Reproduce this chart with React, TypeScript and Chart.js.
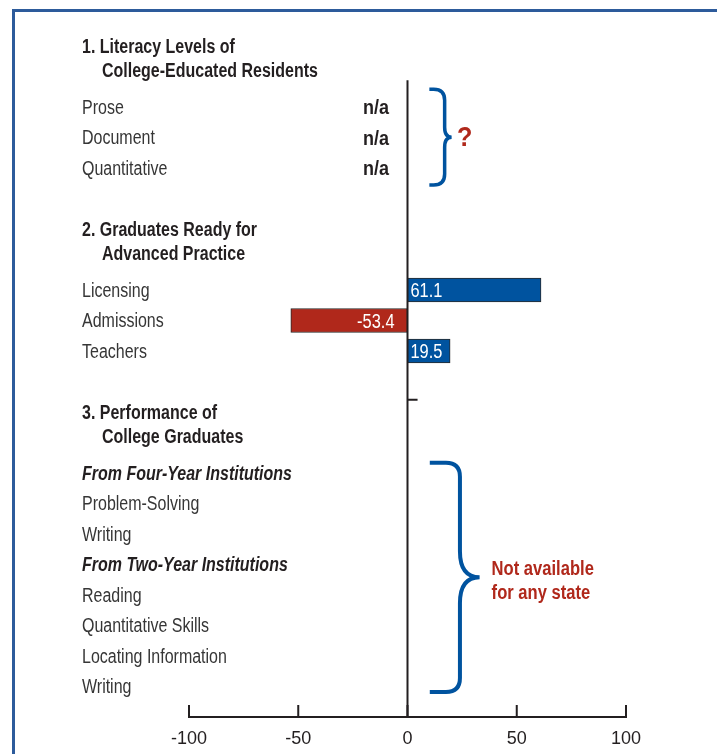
import { useEffect, useRef } from 'react';
import { Chart, registerables } from 'chart.js';

Chart.register(...registerables);

const FONT = "'Liberation Sans', Arial, sans-serif";
const INK = '#231f20';
const TEXT = '#363636';
const BLUE = '#00539f';
const RED = '#b0281b';
const NARROW = 0.82;
const TEXT_DY = 1.5;

// One entry per visual row of the chart (top to bottom). Section titles are two-line arrays.
const rowLabels: (string | string[])[] = [
  ['1. Literacy Levels of', 'College-Educated Residents'],
  '',
  'Prose',
  'Document',
  'Quantitative',
  '',
  ['2. Graduates Ready for', 'Advanced Practice'],
  '',
  'Licensing',
  'Admissions',
  'Teachers',
  '',
  ['3. Performance of', 'College Graduates'],
  '',
  'From Four-Year Institutions',
  'Problem-Solving',
  'Writing',
  'From Two-Year Institutions',
  'Reading',
  'Quantitative Skills',
  'Locating Information',
  'Writing',
  '',
];
const subheadings = ['From Four-Year Institutions', 'From Two-Year Institutions'];

const barCategories = ['Licensing', 'Admissions', 'Teachers'];
const barValues = [61.1, -53.4, 19.5];
const barLabels = ['61.1', '-53.4', '19.5'];

const naCategories = ['Prose', 'Document', 'Quantitative'];
const naText = 'n/a';
const questionText = '?';
const notAvailableLines = ['Not available', 'for any state'];

const xMin = -100;
const xMax = 100;
const xStep = 50;

function narrowText(
  ctx: CanvasRenderingContext2D,
  text: string, x: number, y: number,
  align: CanvasTextAlign, font: string, color: string, sx: number = NARROW,
) {
  ctx.save();
  ctx.translate(x, y + TEXT_DY);
  ctx.scale(sx, 1);
  ctx.font = font;
  ctx.fillStyle = color;
  ctx.textAlign = align;
  ctx.textBaseline = 'middle';
  ctx.fillText(text, 0, 0);
  ctx.restore();
}

function drawBrace(
  ctx: CanvasRenderingContext2D,
  xs: number, xv: number, xt: number,
  yt: number, yb: number, r: number, r2: number, w: number,
) {
  const mid = (yt + yb) / 2;
  ctx.beginPath();
  ctx.moveTo(xs, yt);
  ctx.lineTo(xv - r, yt);
  ctx.quadraticCurveTo(xv, yt, xv, yt + r);
  ctx.lineTo(xv, mid - r2);
  ctx.quadraticCurveTo(xv, mid, xt, mid);
  ctx.quadraticCurveTo(xv, mid, xv, mid + r2);
  ctx.lineTo(xv, yb - r);
  ctx.quadraticCurveTo(xv, yb, xv - r, yb);
  ctx.lineTo(xs, yb);
  ctx.lineWidth = w;
  ctx.strokeStyle = BLUE;
  ctx.stroke();
}

const overlay = {
  id: 'overlay',
  afterDraw(chart: any) {
    const ctx: CanvasRenderingContext2D = chart.ctx;
    const xs = chart.scales.x;
    const ys = chart.scales.y;
    const area = chart.chartArea;
    const X = (v: number) => xs.getPixelForValue(v);
    const Y = (v: number) => ys.getPixelForValue(v);
    ctx.save();

    // zero line and small tick
    const x0 = X(0);
    ctx.strokeStyle = INK;
    ctx.lineWidth = 2;
    ctx.beginPath();
    ctx.moveTo(x0, Y(1.12));
    ctx.lineTo(x0, area.bottom);
    ctx.moveTo(x0, Y(11.6));
    ctx.lineTo(X(4.6), Y(11.6));
    ctx.stroke();

    // upward axis ticks
    ctx.beginPath();
    xs.ticks.forEach((t: any) => {
      const px = X(t.value);
      ctx.moveTo(px, area.bottom);
      ctx.lineTo(px, area.bottom - 12);
    });
    ctx.stroke();

    // row labels
    const left = 82;
    rowLabels.forEach((lab, i) => {
      if (Array.isArray(lab)) {
        const f = `bold 19.5px ${FONT}`;
        narrowText(ctx, lab[0], left, Y(i), 'left', f, INK);
        narrowText(ctx, lab[1], left + 20, Y(i + 0.78), 'left', f, INK);
      } else if (lab) {
        if (subheadings.includes(lab)) {
          narrowText(ctx, lab, left, Y(i), 'left', `italic bold 19.5px ${FONT}`, INK);
        } else {
          narrowText(ctx, lab, left, Y(i), 'left', `19.5px ${FONT}`, TEXT);
        }
      }
    });

    // n/a values
    naCategories.forEach((c) => {
      const i = rowLabels.indexOf(c);
      narrowText(ctx, naText, X(-8.5), Y(i), 'right', `bold 20px ${FONT}`, INK, 0.9);
    });

    // bar value labels
    const meta = chart.getDatasetMeta(0);
    barCategories.forEach((c, k) => {
      const i = rowLabels.indexOf(c);
      const el = meta.data[i];
      if (!el) return;
      if (barValues[k] >= 0) {
        narrowText(ctx, barLabels[k], el.base + 3, el.y, 'left', `20px ${FONT}`, '#ffffff');
      } else {
        narrowText(ctx, barLabels[k], el.base - 13, el.y, 'right', `20px ${FONT}`, '#ffffff');
      }
    });

    // braces
    drawBrace(ctx, X(10), X(17), X(20.2), Y(1.42), Y(4.56), 11, 10, 3.5);
    drawBrace(ctx, X(10.2), X(24), X(33), Y(13.66), Y(21.18), 14, 26, 4);

    narrowText(ctx, questionText, X(22.6), Y(2.97), 'left', `bold 28px ${FONT}`, RED, 0.9);
    narrowText(ctx, notAvailableLines[0], X(38.5), Y(17.12), 'left', `bold 19.5px ${FONT}`, RED, 0.85);
    narrowText(ctx, notAvailableLines[1], X(38.5), Y(17.92), 'left', `bold 19.5px ${FONT}`, RED, 0.85);

    ctx.restore();
  },
};

export default function App() {
  const ref = useRef<HTMLCanvasElement | null>(null);
  useEffect(() => {
    if (!ref.current) return;
    const data = rowLabels.map((lab) => {
      const k = typeof lab === 'string' ? barCategories.indexOf(lab) : -1;
      return k >= 0 ? barValues[k] : null;
    });
    const colors = data.map((v) => (v !== null && v < 0 ? RED : BLUE));
    const chart = new Chart(ref.current, {
      type: 'bar',
      data: {
        labels: rowLabels as any,
        datasets: [
          {
            data,
            backgroundColor: colors,
            borderColor: '#2a2a2a',
            borderWidth: 1,
            borderSkipped: false,
            barThickness: 24,
          },
        ],
      },
      options: {
        indexAxis: 'y',
        animation: false,
        responsive: true,
        maintainAspectRatio: false,
        layout: { padding: { left: 189, right: 91, top: 46, bottom: 7 } },
        plugins: { legend: { display: false }, tooltip: { enabled: false } },
        scales: {
          y: { type: 'category', display: false, offset: false },
          x: {
            type: 'linear',
            min: xMin,
            max: xMax,
            position: 'bottom',
            afterFit: (s: any) => { s.height = 30; },
            grid: { display: false, drawTicks: false },
            border: { display: true, color: INK, width: 2 },
            ticks: {
              stepSize: xStep,
              padding: 11,
              color: INK,
              font: { family: FONT, size: 18 },
            },
          },
        },
      },
      plugins: [overlay],
    });
    return () => chart.destroy();
  }, []);

  return (
    <div style={{ position: 'absolute', left: 0, top: 0, width: 717, height: 754, overflow: 'hidden', background: '#fff' }}>
      <div style={{ position: 'absolute', left: 12, top: 9, width: 740, height: 780, borderTop: '3px solid #2d5b9b', borderLeft: '3px solid #2d5b9b' }} />
      <div style={{ position: 'absolute', left: 0, top: 0, width: 717, height: 754 }}>
        <canvas ref={ref} />
      </div>
    </div>
  );
}
